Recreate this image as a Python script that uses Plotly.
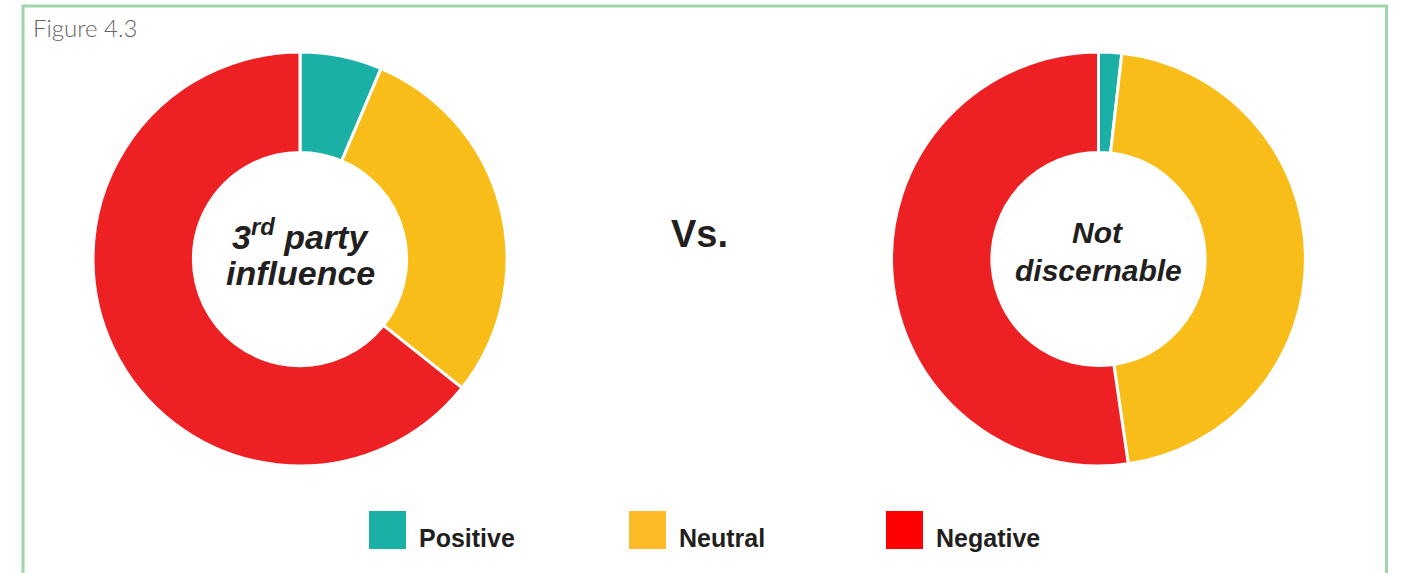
import plotly.graph_objects as go

W, H = 1401, 573

categories = ["Positive", "Neutral", "Negative"]
third_party_values = [6.4, 29.3, 64.3]
not_discernable_values = [1.8, 45.9, 52.3]
slice_colors = ["#1bb0a5", "#f9bd19", "#ed2024"]
legend_colors = ["#1bb0a5", "#fdbb2a", "#ff0000"]
figure_label = "Figure 4.3"
vs_label = "Vs."


def px_x(x):
    return x / W


def px_y(y):
    return 1 - y / H


fig = go.Figure()

pie_specs = [
    (third_party_values, 300, 259, 207),
    (not_discernable_values, 1098.5, 259, 207),
]
for vals, cx, cy, r in pie_specs:
    fig.add_trace(go.Pie(
        labels=categories,
        values=vals,
        sort=False,
        direction="clockwise",
        rotation=0,
        hole=0.515,
        marker=dict(colors=slice_colors, line=dict(color="white", width=3)),
        textinfo="none",
        hoverinfo="label+percent",
        showlegend=False,
        domain=dict(x=[px_x(cx - r), px_x(cx + r)], y=[px_y(cy + r), px_y(cy - r)]),
    ))

annotations = []
center_font = "Liberation Sans, Arial, sans-serif"
# Center labels (bold italic)
center_lines = [
    ("<b><i>3<sup>rd</sup> party</i></b>", 300, 234, 34),
    ("<b><i>influence</i></b>", 300, 273, 34),
    ("<b><i>Not</i></b>", 1098, 232, 30),
    ("<b><i>discernable</i></b>", 1098, 271, 30),
]
for txt, x, y, s in center_lines:
    annotations.append(dict(
        text=txt, x=px_x(x), y=px_y(y), xref="paper", yref="paper",
        xanchor="center", yanchor="middle", showarrow=False,
        font=dict(family=center_font, size=s, color="#231f20"),
    ))

annotations.append(dict(
    text="<b>" + vs_label + "</b>", x=px_x(699), y=px_y(234), xref="paper", yref="paper",
    xanchor="center", yanchor="middle", showarrow=False,
    font=dict(family=center_font, size=38, color="#231f20"),
))

annotations.append(dict(
    text=figure_label, x=px_x(31), y=px_y(28), xref="paper", yref="paper",
    xanchor="left", yanchor="middle", showarrow=False,
    font=dict(family="Lato, sans-serif", size=24, color="#666666", weight=300),
))

shapes = []
# Border frame
shapes.append(dict(
    type="rect", xref="paper", yref="paper",
    x0=px_x(23), x1=px_x(1386.5), y0=px_y(600), y1=px_y(6),
    line=dict(color="#9fd5aa", width=3), fillcolor="rgba(0,0,0,0)", layer="below",
))

# Custom legend
legend_box_x = [369, 629, 886]
for cat, col, bx in zip(categories, legend_colors, legend_box_x):
    shapes.append(dict(
        type="rect", xref="paper", yref="paper",
        x0=px_x(bx), x1=px_x(bx + 37), y0=px_y(549), y1=px_y(511),
        line=dict(width=0), fillcolor=col,
    ))
    annotations.append(dict(
        text="<b>" + cat + "</b>", x=px_x(bx + 48), y=px_y(538), xref="paper", yref="paper",
        xanchor="left", yanchor="middle", showarrow=False,
        font=dict(family=center_font, size=25, color="#231f20"),
    ))

fig.update_layout(
    width=W, height=H,
    margin=dict(l=0, r=0, t=0, b=0),
    paper_bgcolor="white",
    plot_bgcolor="white",
    annotations=annotations,
    shapes=shapes,
    showlegend=False,
)

fig.write_html("out.html")
